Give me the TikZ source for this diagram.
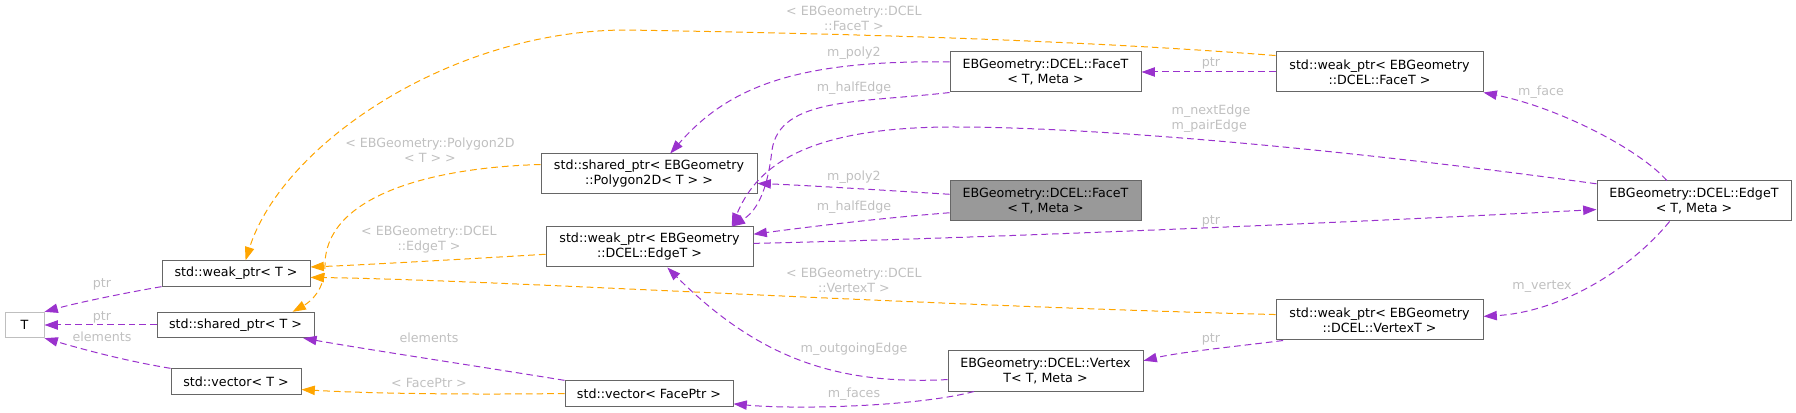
\documentclass[tikz,border=0pt]{standalone}
\usepackage{fontspec}
\setmainfont{DejaVu Sans}
\usepackage{xcolor}
\usepackage{tikz}
\usetikzlibrary{arrows.meta}
\definecolor{uyeMor}{HTML}{9A32CD}
\definecolor{sablonTuruncu}{HTML}{FFA500}
\definecolor{kutuGri}{HTML}{666666}
\definecolor{kokGri}{HTML}{999999}
\definecolor{etiketGri}{HTML}{C0C0C0}
\definecolor{acikGri}{HTML}{BFBFBF}

\begin{document}
\begin{tikzpicture}[x=0.75pt,y=-0.75pt,
  font=\fontsize{9.5}{11.25}\selectfont,
  classbox/.style={draw=kutuGri,line width=0.75pt,fill=white,align=center,inner xsep=3pt,inner ysep=1pt,minimum height=19pt},
  classboxTwo/.style={classbox,minimum height=30pt},
  rootbox/.style={classboxTwo,fill=kokGri},
  memberEdge/.style={draw=uyeMor,line width=0.75pt,dash pattern=on 5pt off 3pt,-{Triangle[length=10pt,width=7pt]}},
  templateEdge/.style={memberEdge,draw=sablonTuruncu},
  edgeLabel/.style={text=etiketGri,align=center,inner sep=0pt}]
\useasboundingbox (0,0) rectangle (1796,413);
\node[classbox,draw=acikGri,minimum width=29.25pt] (T) at (24.5,325) {T};
\node[classbox,minimum width=111pt] (wpT) at (236,273.5) {std::weak\_ptr< T >};
\node[classbox,minimum width=117.75pt] (spT) at (235.5,325) {std::shared\_ptr< T >};
\node[classbox,minimum width=97.5pt] (vecT) at (236,381.5) {std::vector< T >};
\node[classboxTwo,minimum width=162pt] (spPoly) at (649,174) {std::shared\_ptr< EBGeometry\\::Polygon2D< T > >};
\node[classboxTwo,minimum width=155.25pt] (wpEdge) at (649.5,247) {std::weak\_ptr< EBGeometry\\::DCEL::EdgeT >};
\node[classbox,minimum width=126pt] (vecFace) at (649,393.5) {std::vector< FacePtr >};
\node[classboxTwo,minimum width=143.25pt] (faceW) at (1045.5,72) {EBGeometry::DCEL::FaceT\\< T, Meta >};
\node[rootbox,minimum width=143.25pt] (faceG) at (1045.5,201) {EBGeometry::DCEL::FaceT\\< T, Meta >};
\node[classboxTwo,minimum width=146.25pt] (vertex) at (1045.5,371) {EBGeometry::DCEL::Vertex\\T< T, Meta >};
\node[classboxTwo,minimum width=155.25pt] (wpFace) at (1379.5,72) {std::weak\_ptr< EBGeometry\\::DCEL::FaceT >};
\node[classboxTwo,minimum width=155.25pt] (wpVertex) at (1379.5,320) {std::weak\_ptr< EBGeometry\\::DCEL::VertexT >};
\node[classboxTwo,minimum width=145.5pt] (edgeT) at (1694,201) {EBGeometry::DCEL::EdgeT\\< T, Meta >};

\draw[memberEdge] (wpT.south west) .. controls (130,292) and (80,302) .. (T.north east);
\draw[memberEdge] (spT) -- (T);
\draw[memberEdge] (vecT.north west) .. controls (120,360) and (75,347) .. (T.south east);
\draw[memberEdge] (vecFace.north west) .. controls (470,365) and (370,350) .. (spT.-11);
\draw[templateEdge] (vecFace.west) .. controls (450,395) and (360,393) .. (vecT.-7);
\draw[templateEdge] (spPoly.175) .. controls (420,168) and (325,200) .. (325,265) .. controls (325,290) and (310,302) .. (spT.13);
\draw[templateEdge] (wpEdge.184) .. controls (450,260) and (360,265) .. (wpT.5);
\draw[templateEdge] (wpVertex.177) .. controls (900,305) and (500,280) .. (wpT.-3);
\draw[templateEdge] (wpFace.171) .. controls (1050,38) and (800,33) .. (627,30) .. controls (450,30) and (282,145) .. (wpT.54);
\draw[memberEdge] (faceW.174) .. controls (800,60) and (730,85) .. (spPoly.44);
\draw[memberEdge] (faceW.south west) .. controls (860,103) and (780,97) .. (772,150) .. controls (767,195) and (755,212) .. (wpEdge.14);
\draw[memberEdge] (edgeT.170) .. controls (1350,150) and (1100,127) .. (953,127) .. controls (800,127) and (755,170) .. (wpEdge.14);
\draw[memberEdge] (faceG.176) .. controls (880,190) and (800,185) .. (spPoly.-5);
\draw[memberEdge] (faceG.187) .. controls (880,218) and (800,228) .. (wpEdge.7);
\draw[memberEdge] (wpEdge.2) .. controls (1000,238) and (1400,220) .. (edgeT.185);
\draw[memberEdge] (wpFace) -- (faceW);
\draw[memberEdge] (edgeT.143) .. controls (1640,150) and (1560,108) .. (wpFace.south east);
\draw[memberEdge] (edgeT.220) .. controls (1630,270) and (1560,312) .. (wpVertex.2);
\draw[memberEdge] (wpVertex.192) .. controls (1240,346) and (1180,352) .. (vertex.6);
\draw[memberEdge] (vertex.185) .. controls (840,385) and (760,360) .. (wpEdge.-49);
\draw[memberEdge] (vertex.196) .. controls (920,406) and (800,410) .. (vecFace.-7);

\node[edgeLabel] (lPtrWeak) at (102,284) {ptr};
\node[edgeLabel] (lPtrShared) at (102,317) {ptr};
\node[edgeLabel] (lElemT) at (102,337) {elements};
\node[edgeLabel] (lElemFace) at (429,338) {elements};
\node[edgeLabel] (lFacePtr) at (429,383) {< FacePtr >};
\node[edgeLabel] (lPoly) at (430,150) {< EBGeometry::Polygon2D\\< T > >};
\node[edgeLabel] (lEdgeT) at (429,240) {< EBGeometry::DCEL\\::EdgeT >};
\node[edgeLabel] (lVertexT) at (854,280) {< EBGeometry::DCEL\\::VertexT >};
\node[edgeLabel] (lFaceT) at (854,18) {< EBGeometry::DCEL\\::FaceT >};
\node[edgeLabel] (lPolyA) at (854,53) {m\_poly2};
\node[edgeLabel] (lHalfA) at (854,88) {m\_halfEdge};
\node[edgeLabel,align=left] (lNextPair) at (1211,119) {m\_nextEdge\\m\_pairEdge};
\node[edgeLabel] (lPolyB) at (854,177) {m\_poly2};
\node[edgeLabel] (lHalfB) at (854,207) {m\_halfEdge};
\node[edgeLabel] (lPtrEdge) at (1211,221) {ptr};
\node[edgeLabel] (lPtrFace) at (1211,63) {ptr};
\node[edgeLabel] (lFace) at (1541,92) {m\_face};
\node[edgeLabel] (lVertex) at (1542,287) {m\_vertex};
\node[edgeLabel] (lPtrVertex) at (1211,339) {ptr};
\node[edgeLabel] (lOutgoing) at (854,349) {m\_outgoingEdge};
\node[edgeLabel] (lFaces) at (854,394) {m\_faces};
\end{tikzpicture}
\end{document}
